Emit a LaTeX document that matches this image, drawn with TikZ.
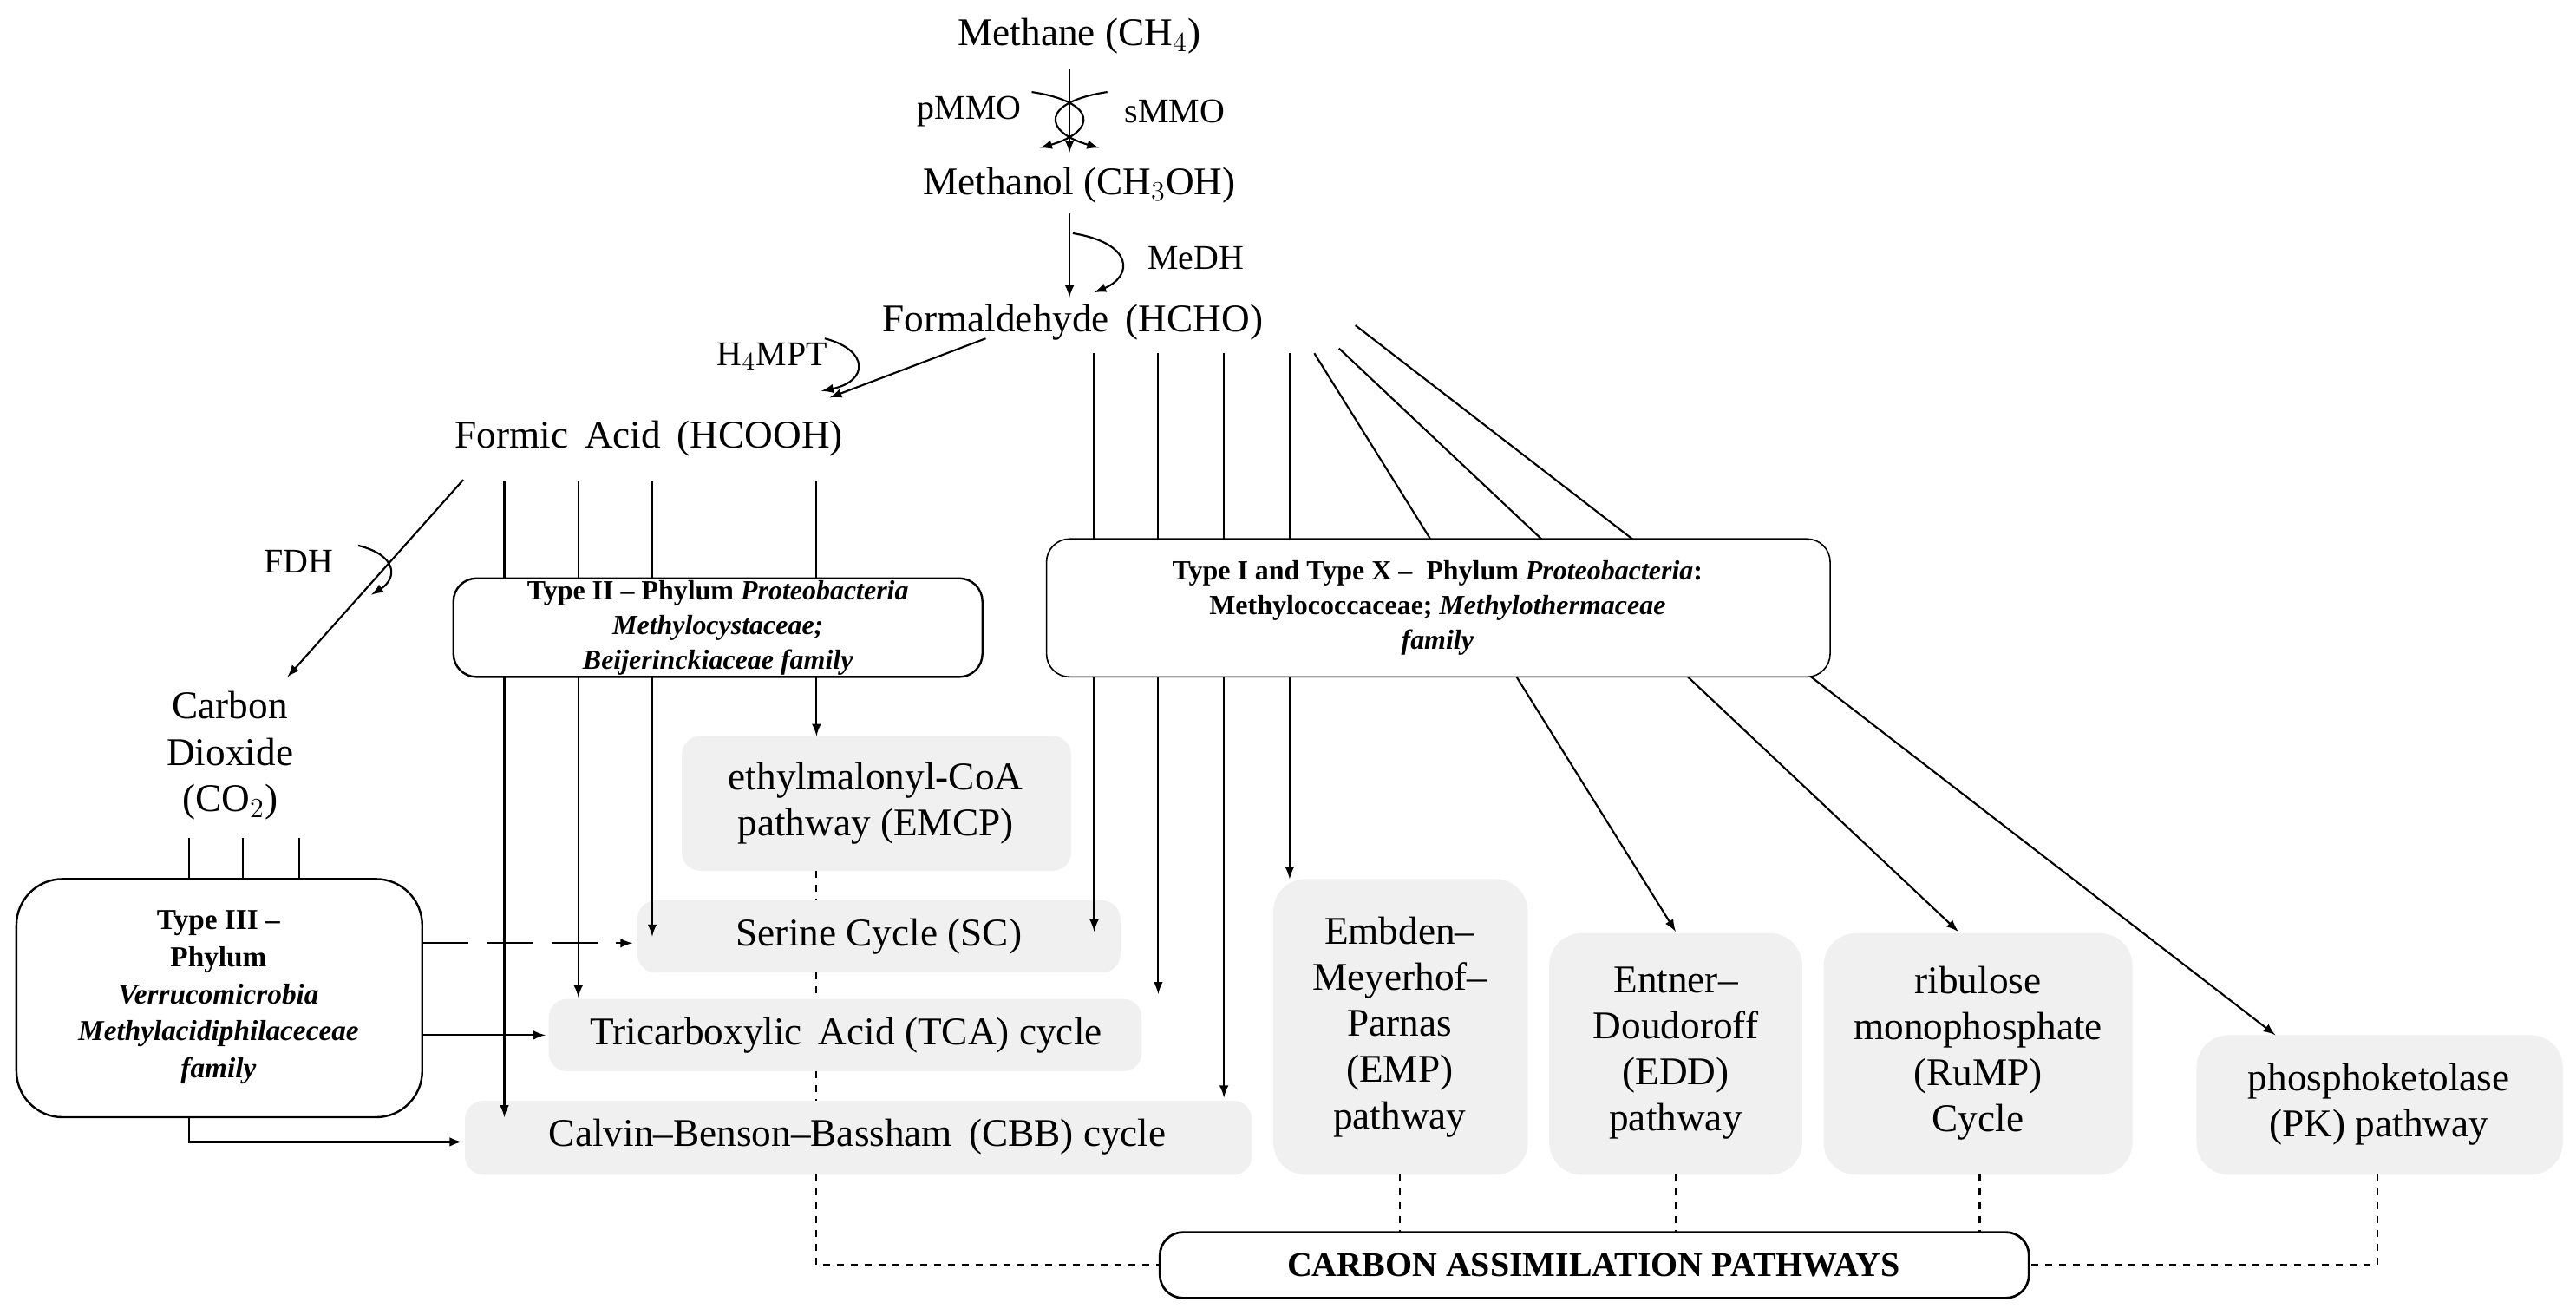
\documentclass[tikz,border=0pt]{standalone}
\usepackage{fontspec}
\setmainfont{Liberation Serif}
\usetikzlibrary{arrows}
\begin{document}
\begin{tikzpicture}[x=0.25mm,y=-0.25mm,thick,
  txt/.style={font=\fontsize{17}{20}\selectfont,align=center},
  small/.style={font=\fontsize{15}{18}\selectfont},
  grp/.style={align=center,font=\fontsize{12}{15}\selectfont},
  box/.style={fill=gray!12,rounded corners=8pt},
  arr/.style={-latex},
  dsh/.style={dashed,line width=0.8pt}]
\useasboundingbox (0,0) rectangle (1568,800);
% pathways
\fill[box] (415,448) rectangle (652,530);
\node[txt] (emcp) at (533,489) {ethylmalonyl-CoA\\pathway (EMCP)};
\fill[box] (388,548) rectangle (682,592);
\node[txt] (sc) at (535,570) {Serine Cycle (SC)};
\fill[box] (334,608) rectangle (695,652);
\node[txt] (tca) at (515,630) {Tricarboxylic\, Acid (TCA) cycle};
\fill[box] (283,670) rectangle (762,715);
\node[txt] (cbb) at (522,692) {Calvin--Benson--Bassham\, (CBB) cycle};
\fill[box,rounded corners=14pt] (775,535) rectangle (930,715);
\node[txt] (emp) at (852,625) {Embden--\\Meyerhof--\\Parnas\\(EMP)\\pathway};
\fill[box,rounded corners=14pt] (943,568) rectangle (1097,715);
\node[txt] (edd) at (1020,641) {Entner--\\Doudoroff\\(EDD)\\pathway};
\fill[box,rounded corners=14pt] (1110,568) rectangle (1298,715);
\node[txt] (rump) at (1204,641) {ribulose\\monophosphate\\(RuMP)\\Cycle};
\fill[box,rounded corners=14pt] (1337,630) rectangle (1560,715);
\node[txt] (pk) at (1448,672) {phosphoketolase\\(PK) pathway};
% compounds
\node[txt] (ch4) at (657,22) {Methane (CH$_4$)};
\node[txt] (meoh) at (657,113) {Methanol (CH$_3$OH)};
\node[txt] (hcho) at (653,196) {Formaldehyde\, (HCHO)};
\node[txt] (hcooh) at (395,267) {Formic\, Acid\, (HCOOH)};
\node[txt] (co2) at (140,460) {Carbon\\Dioxide\\(CO$_2$)};
\node[small] (pmmo) at (590,68) {pMMO};
\node[small] (smmo) at (715,68) {sMMO};
\node[small] (medh) at (728,157) {MeDH};
\node[small] (h4mpt) at (470,217) {H$_4$MPT};
\node[small] (fdh) at (182,342) {FDH};
% main steps
\draw[arr] (651,42) -- (651,93);
\draw[-latex] (628,56) .. controls (668,62) and (668,80) .. (633,90);
\draw[-latex] (674,56) .. controls (634,62) and (634,80) .. (669,90);
\draw[arr] (651,130) -- (651,181);
\draw[-latex] (653,142) .. controls (690,148) and (690,168) .. (666,178);
\draw[arr] (600,206) -- (505,242);
\draw[-latex] (502,206) .. controls (529,213) and (529,232) .. (500,238);
\draw[arr] (282,292) -- (175,412);
\draw[-latex] (218,332) .. controls (242,338) and (242,352) .. (226,362);
% from formic acid
\draw (307,293) -- (307,352) (307,412) edge[arr] (307,680);
\draw (352,293) -- (352,352) (352,412) edge[arr] (352,607);
\draw (397,293) -- (397,352) (397,412) edge[arr] (397,570);
\draw (497,293) -- (497,352) (497,412) edge[arr] (497,448);
% from formaldehyde
\draw[arr] (666,215) -- (666,567);
\draw[arr] (705,215) -- (705,605);
\draw[arr] (745,215) -- (745,668);
\draw[arr] (785,215) -- (785,535);
\draw[arr] (800,215) -- (1020,567);
\draw[arr] (815,212) -- (1192,567);
\draw[arr] (825,198) -- (1385,630);
% carbon dioxide
\foreach \x in {115,148,182} \draw (\x,510) -- (\x,535);
% groups
\draw[fill=white,rounded corners=10pt,line width=0.9pt] (276,352) rectangle (598,412);
\node[grp] (t2) at (437,382) {\textbf{Type II -- Phylum} \textbf{\textit{Proteobacteria}}\\\textbf{\textit{Methylocystaceae;}}\\\textbf{\textit{Beijerinckiaceae family}}};
\draw[fill=white,rounded corners=10pt,line width=0.6pt] (637,328) rectangle (1114,412);
\node[grp] (t1) at (875,370) {\textbf{Type I and Type X -- \ Phylum} \textbf{\textit{Proteobacteria}:}\\\textbf{Methylococcaceae;} \textbf{\textit{Methylothermaceae}}\\\textbf{\textit{family}}};
\draw[fill=white,rounded corners=20pt,line width=0.9pt] (10,535) rectangle (257,680);
\node[grp,font=\fontsize{12.5}{16}\selectfont] (t3) at (133,607) {\textbf{Type III --}\\\textbf{Phylum}\\\textbf{\textit{Verrucomicrobia}}\\\textbf{\textit{Methylacidiphilaceceae}}\\\textbf{\textit{family}}};
% type III arrows
\draw[arr,dash pattern=on 20pt off 8pt] (257,574) -- (385,574);
\draw[arr] (257,630) -- (332,630);
\draw[arr] (115,680) -- (115,695) -- (281,695);
% carbon assimilation
\draw[fill=white,rounded corners=10pt,line width=1pt] (706,750) rectangle (1235,790);
\node[font=\fontsize{15}{18}\selectfont\bfseries] (cap) at (970,770) {CARBON ASSIMILATION PATHWAYS};
\draw[dsh] (497,530) -- (497,548) (497,592) -- (497,608) (497,652) -- (497,670) (497,715) -- (497,770) -- (706,770);
\draw[dsh] (852,715) -- (852,750);
\draw[dsh] (1020,715) -- (1020,750);
\draw[dsh] (1205,715) -- (1205,750);
\draw[dsh] (1447,715) -- (1447,770) -- (1235,770);
\end{tikzpicture}
\end{document}
